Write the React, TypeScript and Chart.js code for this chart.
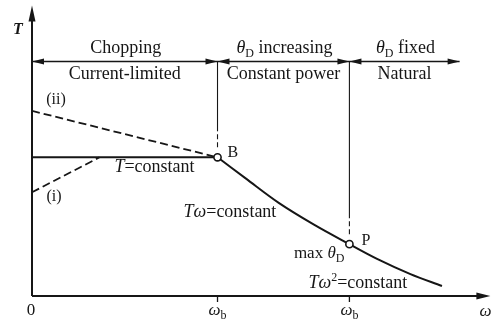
import React, { useEffect, useRef } from 'react';
import { Chart, registerables } from 'chart.js';

Chart.register(...registerables);

// Normalised units: omega relative to base speed, torque relative to T at B
const curveOmega = [1, 1.15, 1.33, 1.52, 1.711, 1.86, 2.04, 2.21];
const curveTorque = [1, 0.85, 0.672, 0.515, 0.374, 0.268, 0.158, 0.072];
const flatOmega = [0, 1];
const flatTorque = [1, 1];
const dashIIOmega = [0, 1];
const dashIITorque = [1.335, 1];
const dashIOmega = [0, 0.364];
const dashITorque = [0.748, 1];
const markerOmega = [1, 1.711];
const markerTorque = [1, 0.374];
const regionBounds = [0, 1, 1.711, 2.305];
const regionLineTorque = 1.691;
const xTickValues = [0, 1, 1.711];
const X_MAX = 2.471;
const Y_MAX = 2.094;

type Seg = { t: string; i?: boolean; b?: boolean; sub?: boolean; sup?: boolean };

const theta: Seg[] = [{ t: 'θ', i: true }, { t: 'D', sub: true }];
const regionTopLabels: Seg[][] = [
  [{ t: 'Chopping' }],
  [...theta, { t: ' increasing' }],
  [...theta, { t: ' fixed' }],
];
const regionBottomLabels: Seg[][] = [
  [{ t: 'Current-limited' }],
  [{ t: 'Constant power' }],
  [{ t: 'Natural' }],
];
const xTickLabels: Seg[][] = [
  [{ t: '0' }],
  [{ t: 'ω', i: true }, { t: 'b', sub: true }],
  [{ t: 'ω', i: true }, { t: 'b', sub: true }],
];

const FONT = '"Liberation Serif", "Times New Roman", serif';
const INK = '#161616';

function segFont(s: Seg, size: number) {
  const sz = s.sub || s.sup ? Math.round(size * 0.68) : size;
  return `${s.i ? 'italic ' : ''}${s.b ? 'bold ' : ''}${sz}px ${FONT}`;
}

function drawRich(ctx: CanvasRenderingContext2D, segs: Seg[], x: number, y: number, align: 'left' | 'center' | 'right', size = 18) {
  ctx.save();
  ctx.textAlign = 'left';
  ctx.textBaseline = 'alphabetic';
  ctx.fillStyle = INK;
  let total = 0;
  const widths = segs.map((s) => {
    ctx.font = segFont(s, size);
    const w = ctx.measureText(s.t).width;
    total += w;
    return w;
  });
  let cx = align === 'left' ? x : align === 'center' ? x - total / 2 : x - total;
  segs.forEach((s, k) => {
    ctx.font = segFont(s, size);
    const dy = s.sub ? 4 : s.sup ? -7 : 0;
    ctx.fillText(s.t, cx, y + dy);
    cx += widths[k];
  });
  ctx.restore();
}

function arrowHead(ctx: CanvasRenderingContext2D, tipX: number, tipY: number, dir: 'l' | 'r' | 'u', len = 12, half = 3) {
  ctx.beginPath();
  if (dir === 'r') {
    ctx.moveTo(tipX, tipY);
    ctx.lineTo(tipX - len, tipY - half);
    ctx.lineTo(tipX - len, tipY + half);
  } else if (dir === 'l') {
    ctx.moveTo(tipX, tipY);
    ctx.lineTo(tipX + len, tipY - half);
    ctx.lineTo(tipX + len, tipY + half);
  } else {
    ctx.moveTo(tipX, tipY);
    ctx.lineTo(tipX - half, tipY + len);
    ctx.lineTo(tipX + half, tipY + len);
  }
  ctx.closePath();
  ctx.fill();
}

const annotate = {
  id: 'annotate',
  afterDraw(chart: any) {
    const ctx: CanvasRenderingContext2D = chart.ctx;
    const xs = chart.scales.x;
    const ys = chart.scales.y;
    const px = (v: number) => xs.getPixelForValue(v);
    const py = (v: number) => ys.getPixelForValue(v);
    const ca = chart.chartArea;
    ctx.save();
    ctx.strokeStyle = INK;
    ctx.fillStyle = INK;

    // axes
    const ox = px(0);
    const oy = py(0);
    ctx.lineWidth = 2;
    ctx.beginPath();
    ctx.moveTo(ox, oy);
    ctx.lineTo(ca.right - 6, oy);
    ctx.moveTo(ox, oy);
    ctx.lineTo(ox, ca.top + 8);
    ctx.stroke();
    arrowHead(ctx, ca.right, oy, 'r', 14, 3.5);
    arrowHead(ctx, ox, ca.top, 'u', 16, 3.5);

    // tick marks
    ctx.lineWidth = 1.3;
    xTickValues.slice(1).forEach((v) => {
      ctx.beginPath();
      ctx.moveTo(px(v), oy);
      ctx.lineTo(px(v), oy + 6);
      ctx.stroke();
    });

    // region arrow line
    const ry = py(regionLineTorque);
    ctx.lineWidth = 1.4;
    ctx.beginPath();
    ctx.moveTo(px(regionBounds[0]), ry);
    ctx.lineTo(px(regionBounds[regionBounds.length - 1]), ry);
    ctx.stroke();
    arrowHead(ctx, px(regionBounds[0]), ry, 'l');
    for (let k = 1; k < regionBounds.length - 1; k++) {
      arrowHead(ctx, px(regionBounds[k]), ry, 'r');
      arrowHead(ctx, px(regionBounds[k]), ry, 'l');
    }
    arrowHead(ctx, px(regionBounds[regionBounds.length - 1]), ry, 'r');

    // vertical separators down to markers
    ctx.lineWidth = 1.1;
    markerOmega.forEach((w, k) => {
      const x = px(w);
      const yEnd = py(markerTorque[k]);
      ctx.setLineDash([]);
      ctx.beginPath();
      ctx.moveTo(x, ry);
      ctx.lineTo(x, yEnd - 26);
      ctx.stroke();
      ctx.setLineDash([5, 3]);
      ctx.beginPath();
      ctx.moveTo(x, yEnd - 23);
      ctx.lineTo(x, yEnd - 8);
      ctx.stroke();
    });
    ctx.setLineDash([]);

    // region labels
    for (let k = 0; k < regionBounds.length - 1; k++) {
      const cx = (px(regionBounds[k]) + px(regionBounds[k + 1])) / 2;
      drawRich(ctx, regionTopLabels[k], cx + 1, ry - 8, 'center');
      drawRich(ctx, regionBottomLabels[k], cx, ry + 18, 'center');
    }

    // x tick labels
    xTickValues.forEach((v, k) => {
      drawRich(ctx, xTickLabels[k], px(v) + (k === 0 ? -1 : 0), oy + 19, 'center', 17);
    });
    drawRich(ctx, [{ t: 'ω', i: true }], ca.right - 5, oy + 20, 'center', 17);
    drawRich(ctx, [{ t: 'T', i: true, b: true }], ox - 19, py(Y_MAX) + 28, 'left', 16);

    // curve labels
    const bx = px(markerOmega[0]);
    const by = py(markerTorque[0]);
    const pX = px(markerOmega[1]);
    const pY = py(markerTorque[1]);
    drawRich(ctx, [{ t: 'B' }], bx + 10, by, 'left', 16);
    drawRich(ctx, [{ t: 'P' }], pX + 12, pY + 1, 'left', 16);
    drawRich(ctx, [{ t: '(ii)' }], px(dashIIOmega[0]) + 24, py(dashIITorque[0]) - 7, 'center', 16);
    drawRich(ctx, [{ t: '(i)' }], px(dashIOmega[0]) + 22, py(dashITorque[0]) + 9, 'center', 16);
    drawRich(ctx, [{ t: 'T', i: true }, { t: '=constant' }], bx - 63, by + 15, 'center', 18);
    drawRich(ctx, [{ t: 'T', i: true }, { t: 'ω', i: true }, { t: '=constant' }], bx - 34, by + 60, 'left', 18);
    drawRich(ctx, [{ t: 'max ' }, ...theta], pX - 5, pY + 14, 'right', 17);
    drawRich(ctx, [{ t: 'T', i: true }, { t: 'ω', i: true }, { t: '2', sup: true }, { t: '=constant' }], pX - 41, oy - 8, 'left', 18);

    ctx.restore();
  },
};

const pts = (xs: number[], ys: number[]) => xs.map((x, k) => ({ x, y: ys[k] }));

export default function App() {
  const ref = useRef<HTMLCanvasElement | null>(null);
  useEffect(() => {
    document.body.style.margin = '0';
    document.body.style.background = '#ffffff';
    if (!ref.current) return;
    const chart = new Chart(ref.current, {
      type: 'scatter',
      data: {
        datasets: [
          {
            label: 'markers',
            data: pts(markerOmega, markerTorque),
            showLine: false,
            pointRadius: 3.6,
            pointBackgroundColor: '#ffffff',
            pointBorderColor: INK,
            pointBorderWidth: 1.6,
            order: 0,
          },
          {
            label: 'T=constant',
            data: pts(flatOmega, flatTorque),
            showLine: true,
            borderColor: INK,
            borderWidth: 2,
            pointRadius: 0,
            order: 1,
          },
          {
            label: 'power/natural',
            data: pts(curveOmega, curveTorque),
            showLine: true,
            borderColor: INK,
            borderWidth: 2,
            pointRadius: 0,
            tension: 0.35,
            order: 1,
          },
          {
            label: '(ii)',
            data: pts(dashIIOmega, dashIITorque),
            showLine: true,
            borderColor: INK,
            borderWidth: 1.8,
            borderDash: [8, 4],
            pointRadius: 0,
            order: 2,
          },
          {
            label: '(i)',
            data: pts(dashIOmega, dashITorque),
            showLine: true,
            borderColor: INK,
            borderWidth: 1.8,
            borderDash: [8, 4],
            pointRadius: 0,
            order: 2,
          },
        ],
      },
      options: {
        animation: false,
        responsive: false,
        layout: { padding: { left: 32, top: 5, right: 2, bottom: 24 } },
        plugins: { legend: { display: false }, tooltip: { enabled: false } },
        events: [],
        scales: {
          x: { type: 'linear', min: 0, max: X_MAX, display: false },
          y: { type: 'linear', min: 0, max: Y_MAX, display: false },
        },
      } as any,
      plugins: [annotate],
    });
    return () => chart.destroy();
  }, []);
  return <canvas ref={ref} width={496} height={320} style={{ display: 'block' }} />;
}
